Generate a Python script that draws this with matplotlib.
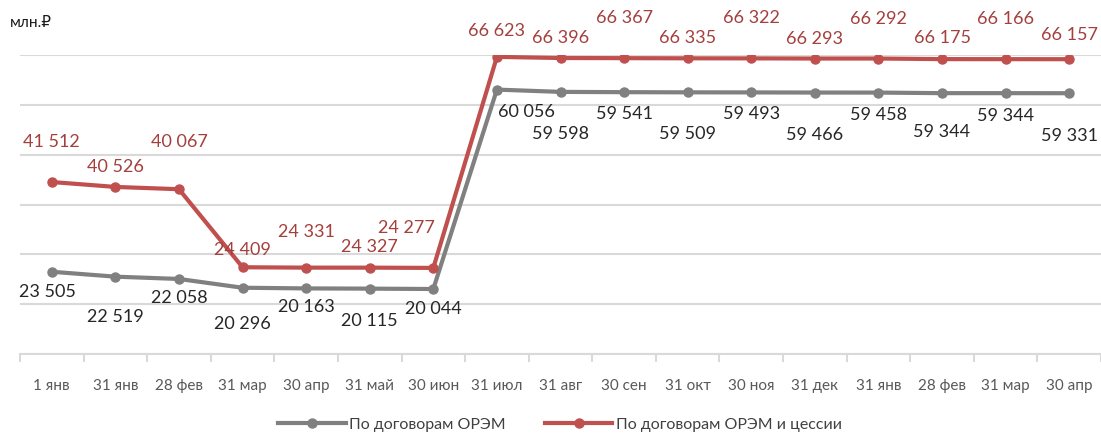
import matplotlib as mpl
mpl.use('Agg')
import matplotlib.pyplot as plt
import numpy as np

plt.rcParams['font.family'] = ['Lato', 'DejaVu Sans']

dates = ['1 янв', '31 янв', '28 фев', '31 мар', '30 апр', '31 май', '30 июн', '31 июл',
         '31 авг', '30 сен', '31 окт', '30 ноя', '31 дек', '31 янв', '28 фев', '31 мар', '30 апр']
orem = [23505, 22519, 22058, 20296, 20163, 20115, 20044, 60056,
        59598, 59541, 59509, 59493, 59466, 59458, 59344, 59344, 59331]
orem_cess = [41512, 40526, 40067, 24409, 24331, 24327, 24277, 66623,
             66396, 66367, 66335, 66322, 66293, 66292, 66175, 66166, 66157]

# label offsets in pixels (dx, dy), dy > 0 is downward
red_dy = [-41, -21, -48, -18, -37, -22, -41, -27, -21, -41, -21, -41, -21, -41, -22, -41, -25]
red_dx = [0, 0, 0, 0, 0, 0, -27, 0, 0, 0, 0, 0, 0, 0, 0, 0, 0]
grey_dy = [19, 39, 18, 35, 18, 31, 19, 21, 41, 21, 41, 21, 41, 21, 38, 22, 42]
grey_dx = [-4, 0, 0, 0, 0, 0, 0, 30, 0, 0, 0, 0, 0, 0, 0, 0, 0]

GREY = '#808080'
RED = '#C0504D'


def fmt(v):
    return f'{v:,}'.replace(',', ' ')


fig = plt.figure(figsize=(11.01, 4.35), dpi=100)
ax = fig.add_axes([20 / 1101, 80 / 435, 1081 / 1101, 299 / 435])

x = np.arange(len(dates))
ax.plot(x, orem, color=GREY, lw=3, marker='o', ms=6.5, solid_joinstyle='round',
        label='По договорам ОРЭМ', zorder=3)
ax.plot(x, orem_cess, color=RED, lw=3, marker='o', ms=6.5, solid_joinstyle='round',
        label='По договорам ОРЭМ и цессии', zorder=4)

for i in range(len(x)):
    ax.annotate(fmt(orem_cess[i]), (x[i], orem_cess[i]),
                xytext=(red_dx[i], -red_dy[i]), textcoords='offset pixels',
                ha='center', va='center', fontsize=13, color='#A43F3C',
                annotation_clip=False, zorder=6)
    ax.annotate(fmt(orem[i]), (x[i], orem[i]),
                xytext=(grey_dx[i], -grey_dy[i]), textcoords='offset pixels',
                ha='center', va='center', fontsize=13, color='#262626',
                annotation_clip=False, zorder=6)

ax.set_xlim(-0.5, len(dates) - 0.5)
ax.set_ylim(7000, 67000)
ax.set_yticks(np.arange(7000, 67001, 10000))
ax.yaxis.grid(True, color='#D9D9D9', lw=1.5)
ax.set_axisbelow(True)
ax.tick_params(axis='y', left=False, labelleft=False)

ax.set_xticks(x)
ax.set_xticklabels(dates, fontsize=11, color='#595959')
ax.set_xticks(np.arange(-0.5, len(dates), 1), minor=True)
ax.tick_params(axis='x', which='major', length=0, pad=17)
ax.tick_params(axis='x', which='minor', length=6, width=1.5, color='#D9D9D9')

for side in ['top', 'right', 'left']:
    ax.spines[side].set_visible(False)
ax.spines['bottom'].set_color('#D9D9D9')
ax.spines['bottom'].set_linewidth(1.5)

fig.text(10 / 1101, 1 - 23 / 435, 'млн.₽', fontsize=11, color='#1a1a1a', va='center')

fig.legend(loc='center', bbox_to_anchor=(560 / 1101, 1 - 425 / 435), ncol=2,
           frameon=False, fontsize=11.5, handlelength=4.2, columnspacing=2.5,
           handletextpad=0.2, labelcolor='#404040')

fig.savefig('out.png', dpi=100)
plt.close(fig)
